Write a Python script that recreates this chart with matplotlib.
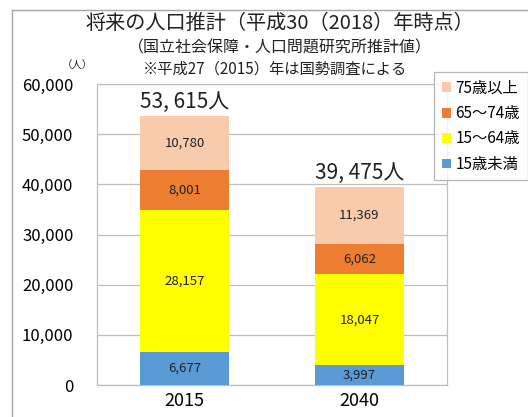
import numpy as np
import matplotlib.pyplot as plt
from matplotlib.lines import Line2D
from matplotlib.patches import Patch

plt.rcParams['font.family'] = ['Noto Sans CJK JP', 'DejaVu Sans']

# データ（人）
years = ["2015", "2040"]
under15 = [6677, 3997]
age15_64 = [28157, 18047]
age65_74 = [8001, 6062]
over75 = [10780, 11369]
totals = ["53, 615人", "39, 475人"]

series = [
    ("15歳未満", under15, "#5B9BD5"),
    ("15～64歳", age15_64, "#FFFF00"),
    ("65～74歳", age65_74, "#ED7D31"),
    ("75歳以上", over75, "#F8CBAD"),
]

fig = plt.figure(figsize=(5.28, 4.17), dpi=100)
W, H = 528, 417
ax = fig.add_axes([97 / W, 1 - 385 / H, 350 / W, 301 / H])

x = np.arange(len(years))
bottom = np.zeros(len(years))
handles = []
for name, vals, color in series:
    vals = np.array(vals)
    ax.bar(x, vals, width=0.51, bottom=bottom, color=color, zorder=3)
    for xi, b, v in zip(x, bottom, vals):
        ax.text(xi, b + v / 2, f"{v:,}", ha="center", va="center",
                fontsize=9.5, color="#222222", zorder=4)
    bottom += vals
    handles.append(Patch(facecolor=color, label=name))

for xi, top, lab in zip(x, bottom, totals):
    ax.text(xi, top + 700, lab, ha="center", va="bottom", fontsize=15,
            color="#222222")

ax.set_xlim(-0.5, 1.5)
ax.set_ylim(0, 60000)
ax.set_yticks(np.arange(0, 60001, 10000))
ax.set_yticklabels([f"{v:,}" for v in range(0, 60001, 10000)], fontsize=12)
ax.set_xticks(x)
ax.set_xticklabels(years, fontsize=13)
ax.tick_params(axis="y", length=0, pad=17)
ax.tick_params(axis="x", length=0, pad=5)
ax.grid(axis="y", color="#BFBFBF", linewidth=0.9, zorder=0)
for s in ax.spines.values():
    s.set_color("#BFBFBF")
    s.set_linewidth(0.9)

# 凡例（上から75歳以上）
leg = fig.legend(handles=handles[::-1], loc="upper left",
                 bbox_to_anchor=(434 / W, 1 - 72 / H), fontsize=11,
                 frameon=True, fancybox=False, handlelength=0.6,
                 handleheight=0.6, handletextpad=0.3, labelspacing=0.55,
                 borderpad=0.5, borderaxespad=0)
leg.get_frame().set_edgecolor("#A6A6A6")
leg.get_frame().set_linewidth(0.9)

# タイトル
fig.text(280 / W, 1 - 23 / H, "将来の人口推計（平成30（2018）年時点）",
         ha="center", va="center", fontsize=14.5, color="#222222")
fig.text(280 / W, 1 - 48 / H, "（国立社会保障・人口問題研究所推計値）",
         ha="center", va="center", fontsize=11.5, color="#222222")
fig.text(275 / W, 1 - 69 / H, "※平成27（2015）年は国勢調査による",
         ha="center", va="center", fontsize=11, color="#222222")
fig.text(77 / W, 1 - 66 / H, "（人）", ha="center", va="center",
         fontsize=7.5, color="#222222")

# 外枠
fig.add_artist(Line2D([12 / W, 12 / W], [0, 1 - 10 / H], color="#A6A6A6",
                      linewidth=1))
fig.add_artist(Line2D([12 / W, 1], [1 - 10 / H, 1 - 10 / H], color="#A6A6A6",
                      linewidth=1))

fig.savefig("out.png", dpi=100)
